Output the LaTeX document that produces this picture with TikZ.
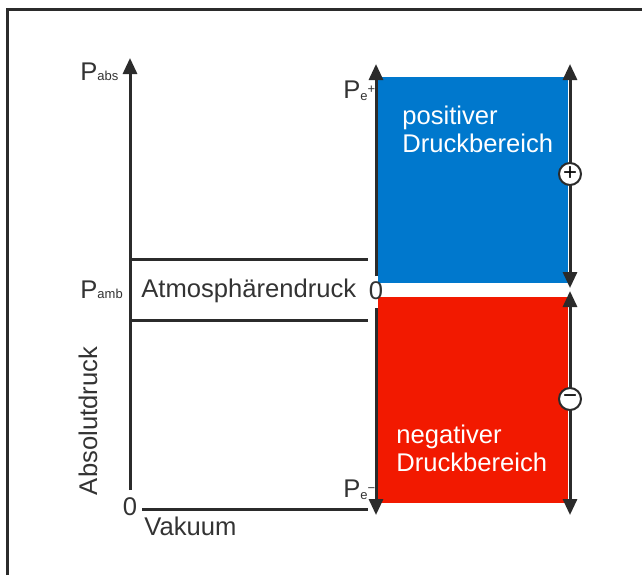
\documentclass[tikz,border=0pt]{standalone}
\usepackage{fontspec}
\setmainfont{Liberation Sans}
\usetikzlibrary{arrows.meta}
\definecolor{linegray}{HTML}{2B2B2B}
\definecolor{textgray}{HTML}{333333}
\definecolor{posblue}{HTML}{0078CD}
\definecolor{negred}{HTML}{F21900}
\begin{document}
\begin{tikzpicture}[x=0.5pt,y=-0.5pt]
    \tikzset{axis/.style = {draw=linegray,line width=1.5pt},
             ptip/.tip = {Triangle[length=8pt,width=7pt]},
             label/.style = {text=textgray,font=\fontsize{12.8}{14}\selectfont,inner sep=0pt},
             regiontext/.style = {text=white,font=\fontsize{12.8}{14}\selectfont,align=left,inner sep=0pt,anchor=west},
             sign/.style = {shape=circle,draw=linegray,line width=1pt,fill=white,minimum size=11pt,inner sep=0pt,font=\fontsize{12}{12}\selectfont}}
    \def\sub#1{{\fontsize{6.5}{6.5}\selectfont #1}}
    \useasboundingbox (0,0) rectangle (642,575);
    % frame
    \draw[draw=linegray,line width=1.5pt] (7,575) -- (7,9) -- (642,9);
    % pressure regions
    \fill[posblue] (378,77) rectangle (568,283);
    \fill[negred] (378,297) rectangle (568,503);
    \node[regiontext] (postext) at (402,129) {positiver\\Druckbereich};
    \node[regiontext] (negtext) at (396,448) {negativer\\Druckbereich};
    % absolute axis
    \coordinate (absbot) at (130,490);
    \coordinate (abstop) at (130,58);
    \draw[axis,-{ptip}] (absbot) -- (abstop);
    \coordinate (vacL) at (142,509);
    \coordinate (vacR) at (368,509);
    \draw[axis] (vacL) -- (vacR);
    \coordinate (atmTL) at (130,259);
    \coordinate (atmTR) at (368,259);
    \coordinate (atmBL) at (130,320);
    \coordinate (atmBR) at (368,320);
    \draw[axis] (atmTL) -- (atmTR);
    \draw[axis] (atmBL) -- (atmBR);
    % gauge axis
    \coordinate (gzeroup) at (376,276);
    \coordinate (gtop) at (376,64);
    \coordinate (gzerodown) at (376,308);
    \coordinate (gbot) at (376,515);
    \draw[axis,-{ptip}] (gzeroup) -- (gtop);
    \draw[axis,-{ptip}] (gzerodown) -- (gbot);
    % right arrows
    \coordinate (rtop) at (570,64);
    \coordinate (rmidup) at (570,288);
    \coordinate (rmiddown) at (570,291);
    \coordinate (rbot) at (570,515);
    \draw[axis,{ptip}-{ptip}] (rmidup) -- (rtop);
    \draw[axis,{ptip}-{ptip}] (rmiddown) -- (rbot);
    \node[sign] (plus) at (570,174) {+};
    \node[sign] (minus) at (570,399) {−};
    % labels
    \node[label,anchor=base west] (pabs) at (80,80) {P\sub{abs}};
    \node[label,anchor=base west] (pamb) at (80,298) {P\sub{amb}};
    \node[label,anchor=base west] (atm) at (141,297) {Atmosphärendruck};
    \node[label] (gzero) at (376,291) {0};
    \node[label,anchor=base west] (peplus) at (343,98) {P\raisebox{-0.22ex}{\sub{e}}\raisebox{0.3ex}{\sub{+}}};
    \node[label,anchor=base west] (peminus) at (343,497) {P\raisebox{-0.22ex}{\sub{e}}\raisebox{0.3ex}{\sub{−}}};
    \node[label] (azero) at (130,507) {0};
    \node[label,anchor=base west] (vac) at (144,535) {Vakuum};
    \node[label,rotate=90] (absname) at (88,421) {Absolutdruck};
\end{tikzpicture}
\end{document}
